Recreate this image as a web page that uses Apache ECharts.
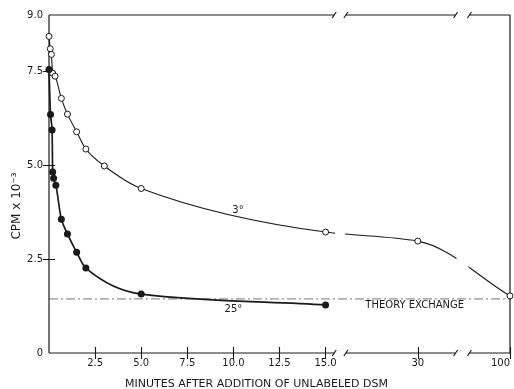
<!DOCTYPE html>
<html>
<head>
<meta charset="utf-8">
<script src="https://cdn.jsdelivr.net/npm/echarts@6/dist/echarts.min.js"></script>
<style>html,body{margin:0;padding:0;background:#fff}#c{width:514px;height:389px}</style>
</head>
<body>
<div id="c"></div>
<script>
// ---- data ----
const minutes3 = [0, 0.07, 0.13, 0.2, 0.33, 0.67, 1, 1.5, 2, 3, 5, 15, 30, 100];
const cpm3 = [8.43, 8.10, 7.95, 7.45, 7.37, 6.78, 6.36, 5.89, 5.43, 4.98, 4.38, 3.22, 2.98, 1.52];
const minutes25 = [0, 0.083, 0.167, 0.2, 0.25, 0.37, 0.67, 1, 1.5, 2, 5, 15];
const cpm25 = [7.55, 6.35, 5.94, 4.82, 4.65, 4.47, 3.56, 3.17, 2.68, 2.26, 1.57, 1.28];
const theoryExchange = 1.44;
const xTickMinutes = [2.5, 5, 7.5, 10, 12.5, 15, 30, 100];
const xTickLabels = ['2.5', '5.0', '7.5', '10.0', '12.5', '15.0', '30', '100'];
const yTickValues = [0, 2.5, 5, 7.5, 9];
const yTickLabels = ['0', '2.5', '5.0', '7.5', '9.0'];
const annotations = [
  {minutes: 10.25, cpm: 3.8, text: '3°'},
  {minutes: 10.0, cpm: 1.15, text: '25°'},
  {minutes: 29.5, cpm: 1.26, text: 'THEORY EXCHANGE'}
];
// broken axis gaps (in minutes)
const breaks = [[16.4, 18.3], [58.7, 69.2]];

// ---- broken-axis scale: 0-15 min linear, 15-30, 30-100 compressed ----
function toV(x) {
  if (x <= 15) return x / 2.5;
  if (x <= 30) return 6 + (x - 15) / 7.5;
  return 8 + (x - 30) / 35;
}
const X_MAX = toV(100);
const xTickV = xTickMinutes.map(toV);

const chart = echarts.init(document.getElementById('c'), null, {renderer: 'canvas'});
const INK = '#1a1a1a';
const FONT = 'DejaVu Sans';

// monotone cubic (Fritsch-Butland) path through pixel points
function monotonePath(pts) {
  const n = pts.length;
  const h = [], d = [];
  for (let i = 0; i < n - 1; i++) {
    h[i] = pts[i + 1][0] - pts[i][0];
    d[i] = (pts[i + 1][1] - pts[i][1]) / h[i];
  }
  const m = [];
  m[0] = d[0]; m[n - 1] = d[n - 2];
  for (let i = 1; i < n - 1; i++) {
    if (d[i - 1] * d[i] <= 0) m[i] = 0;
    else {
      const w1 = 2 * h[i] + h[i - 1], w2 = h[i] + 2 * h[i - 1];
      m[i] = (w1 + w2) / (w1 / d[i - 1] + w2 / d[i]);
    }
  }
  let s = 'M' + pts[0][0] + ' ' + pts[0][1];
  for (let i = 0; i < n - 1; i++) {
    const x0 = pts[i][0], y0 = pts[i][1], x1 = pts[i + 1][0], y1 = pts[i + 1][1];
    s += ' C' + (x0 + h[i] / 3) + ' ' + (y0 + m[i] * h[i] / 3) + ' ' +
      (x1 - h[i] / 3) + ' ' + (y1 - m[i + 1] * h[i] / 3) + ' ' + x1 + ' ' + y1;
  }
  return s;
}

function curveRender(mins, vals, width) {
  return function (params, api) {
    const pts = mins.map((mm, i) => api.coord([toV(mm), vals[i]]));
    return {type: 'path', shape: {pathData: monotonePath(pts)},
      style: {fill: 'none', stroke: INK, lineWidth: width}};
  };
}

function frameRender(params, api) {
  const ch = [];
  const segs = [];
  let s = 0;
  breaks.forEach(b => { segs.push([toV(s), toV(b[0])]); s = b[1]; });
  segs.push([toV(s), X_MAX]);
  const style = {stroke: INK, lineWidth: 1.2};
  // white gaps on the 3° curve at the axis breaks
  breaks.forEach(bk => {
    const p1 = api.coord([toV(bk[0]) + 0.02, 3.7]), p2 = api.coord([toV(bk[1]) - 0.02, 1.75]);
    ch.push({type: 'rect', shape: {x: p1[0], y: p1[1], width: p2[0] - p1[0], height: p2[1] - p1[1]}, style: {fill: '#fff'}});
  });
  [0, 9].forEach(yv => {
    segs.forEach(sg => {
      const p1 = api.coord([sg[0], yv]), p2 = api.coord([sg[1], yv]);
      ch.push({type: 'line', shape: {x1: p1[0], y1: p1[1], x2: p2[0], y2: p2[1]}, style});
    });
    breaks.forEach(b => {
      [toV(b[0]), toV(b[1])].forEach(v => {
        const p = api.coord([v, yv]);
        ch.push({type: 'line', shape: {x1: p[0] - 2, y1: p[1] + 3, x2: p[0] + 2, y2: p[1] - 3}, style});
      });
    });
  });
  const a = api.coord([0, 0]), b = api.coord([0, 9]);
  ch.push({type: 'line', shape: {x1: a[0], y1: a[1], x2: b[0], y2: b[1]}, style});
  const c = api.coord([X_MAX, 0]), d = api.coord([X_MAX, 9]);
  ch.push({type: 'line', shape: {x1: c[0], y1: c[1], x2: d[0], y2: d[1]}, style});
  return {type: 'group', children: ch};
}

function annRender(params, api) {
  const a = annotations[params.dataIndex];
  const p = api.coord([toV(a.minutes), a.cpm]);
  return {type: 'text', x: p[0], y: p[1], style: {text: a.text, fill: INK, font: '10px "' + FONT + '"', textAlign: 'center', textVerticalAlign: 'middle'}};
}

const tickStyle = {show: true, inside: true, length: 6, lineStyle: {color: INK, width: 1.1}};

chart.setOption({
  animation: false,
  backgroundColor: '#fff',
  grid: {left: 49, right: 4, top: 15, bottom: 36, containLabel: false, outerBoundsMode: 'none'},
  xAxis: [{
    type: 'value', min: 0, max: X_MAX, position: 'bottom',
    axisLine: {show: false}, splitLine: {show: false},
    axisTick: Object.assign({customValues: xTickV}, tickStyle),
    axisLabel: {customValues: xTickV, margin: 5, color: INK, fontFamily: FONT, fontSize: 10, alignMaxLabel: 'right',
      formatter: v => { const i = xTickV.findIndex(t => Math.abs(t - v) < 1e-6); return i >= 0 ? xTickLabels[i] : ''; }},
    name: 'MINUTES AFTER ADDITION OF UNLABELED DSM', nameLocation: 'middle', nameGap: 26, nameMoveOverlap: false,
    nameTextStyle: {color: INK, fontFamily: FONT, fontSize: 11, padding: [0, 46, 0, 0]}
  }, {
    type: 'value', min: 0, max: X_MAX, position: 'top',
    axisLine: {show: false}, splitLine: {show: false}, axisLabel: {show: false},
    axisTick: Object.assign({customValues: xTickV}, tickStyle)
  }],
  yAxis: [{
    type: 'value', min: 0, max: 9, position: 'left',
    axisLine: {show: false}, splitLine: {show: false},
    axisTick: Object.assign({customValues: [2.5, 5, 7.5]}, tickStyle),
    axisLabel: {customValues: yTickValues, margin: 6, color: INK, fontFamily: FONT, fontSize: 10,
      formatter: v => { const i = yTickValues.indexOf(v); return i >= 0 ? yTickLabels[i] : ''; }},
    name: 'CPM x 10⁻³', nameLocation: 'middle', nameGap: 26, nameRotate: 90, nameMoveOverlap: false,
    nameTextStyle: {color: INK, fontFamily: FONT, fontSize: 12, padding: [0, 44, 0, 0]}
  }, {
    type: 'value', min: 0, max: 9, position: 'right',
    axisLine: {show: false}, splitLine: {show: false}, axisLabel: {show: false},
    axisTick: Object.assign({customValues: [2.5, 5, 7.5]}, tickStyle)
  }],
  series: [{
    type: 'line', name: 'theory', silent: true, symbol: 'none', z: 1,
    data: [[0, theoryExchange], [X_MAX, theoryExchange]],
    lineStyle: {color: '#777', width: 1, type: [9, 3, 2, 3]}
  }, {
    type: 'custom', name: '3° curve', z: 2, silent: true,
    data: [[0, 0]], renderItem: curveRender(minutes3, cpm3, 1.1)
  }, {
    type: 'custom', name: '25° curve', z: 2, silent: true,
    data: [[0, 0]], renderItem: curveRender(minutes25, cpm25, 1.7)
  }, {
    type: 'custom', name: 'frame', z: 3, silent: true,
    data: [[0, 0]], renderItem: frameRender, clip: false
  }, {
    type: 'scatter', name: '3°', z: 5,
    data: minutes3.map((m, i) => [toV(m), cpm3[i]]),
    symbol: 'circle', symbolSize: 6,
    itemStyle: {color: '#fff', borderColor: INK, borderWidth: 1, opacity: 1}
  }, {
    type: 'scatter', name: '25°', z: 5,
    data: minutes25.map((m, i) => [toV(m), cpm25[i]]),
    symbol: 'circle', symbolSize: 7,
    itemStyle: {color: INK, borderWidth: 0, opacity: 1}
  }, {
    type: 'custom', name: 'labels', z: 6, silent: true,
    data: annotations.map(a => [toV(a.minutes), a.cpm]), renderItem: annRender
  }]
});
</script>
</body>
</html>
